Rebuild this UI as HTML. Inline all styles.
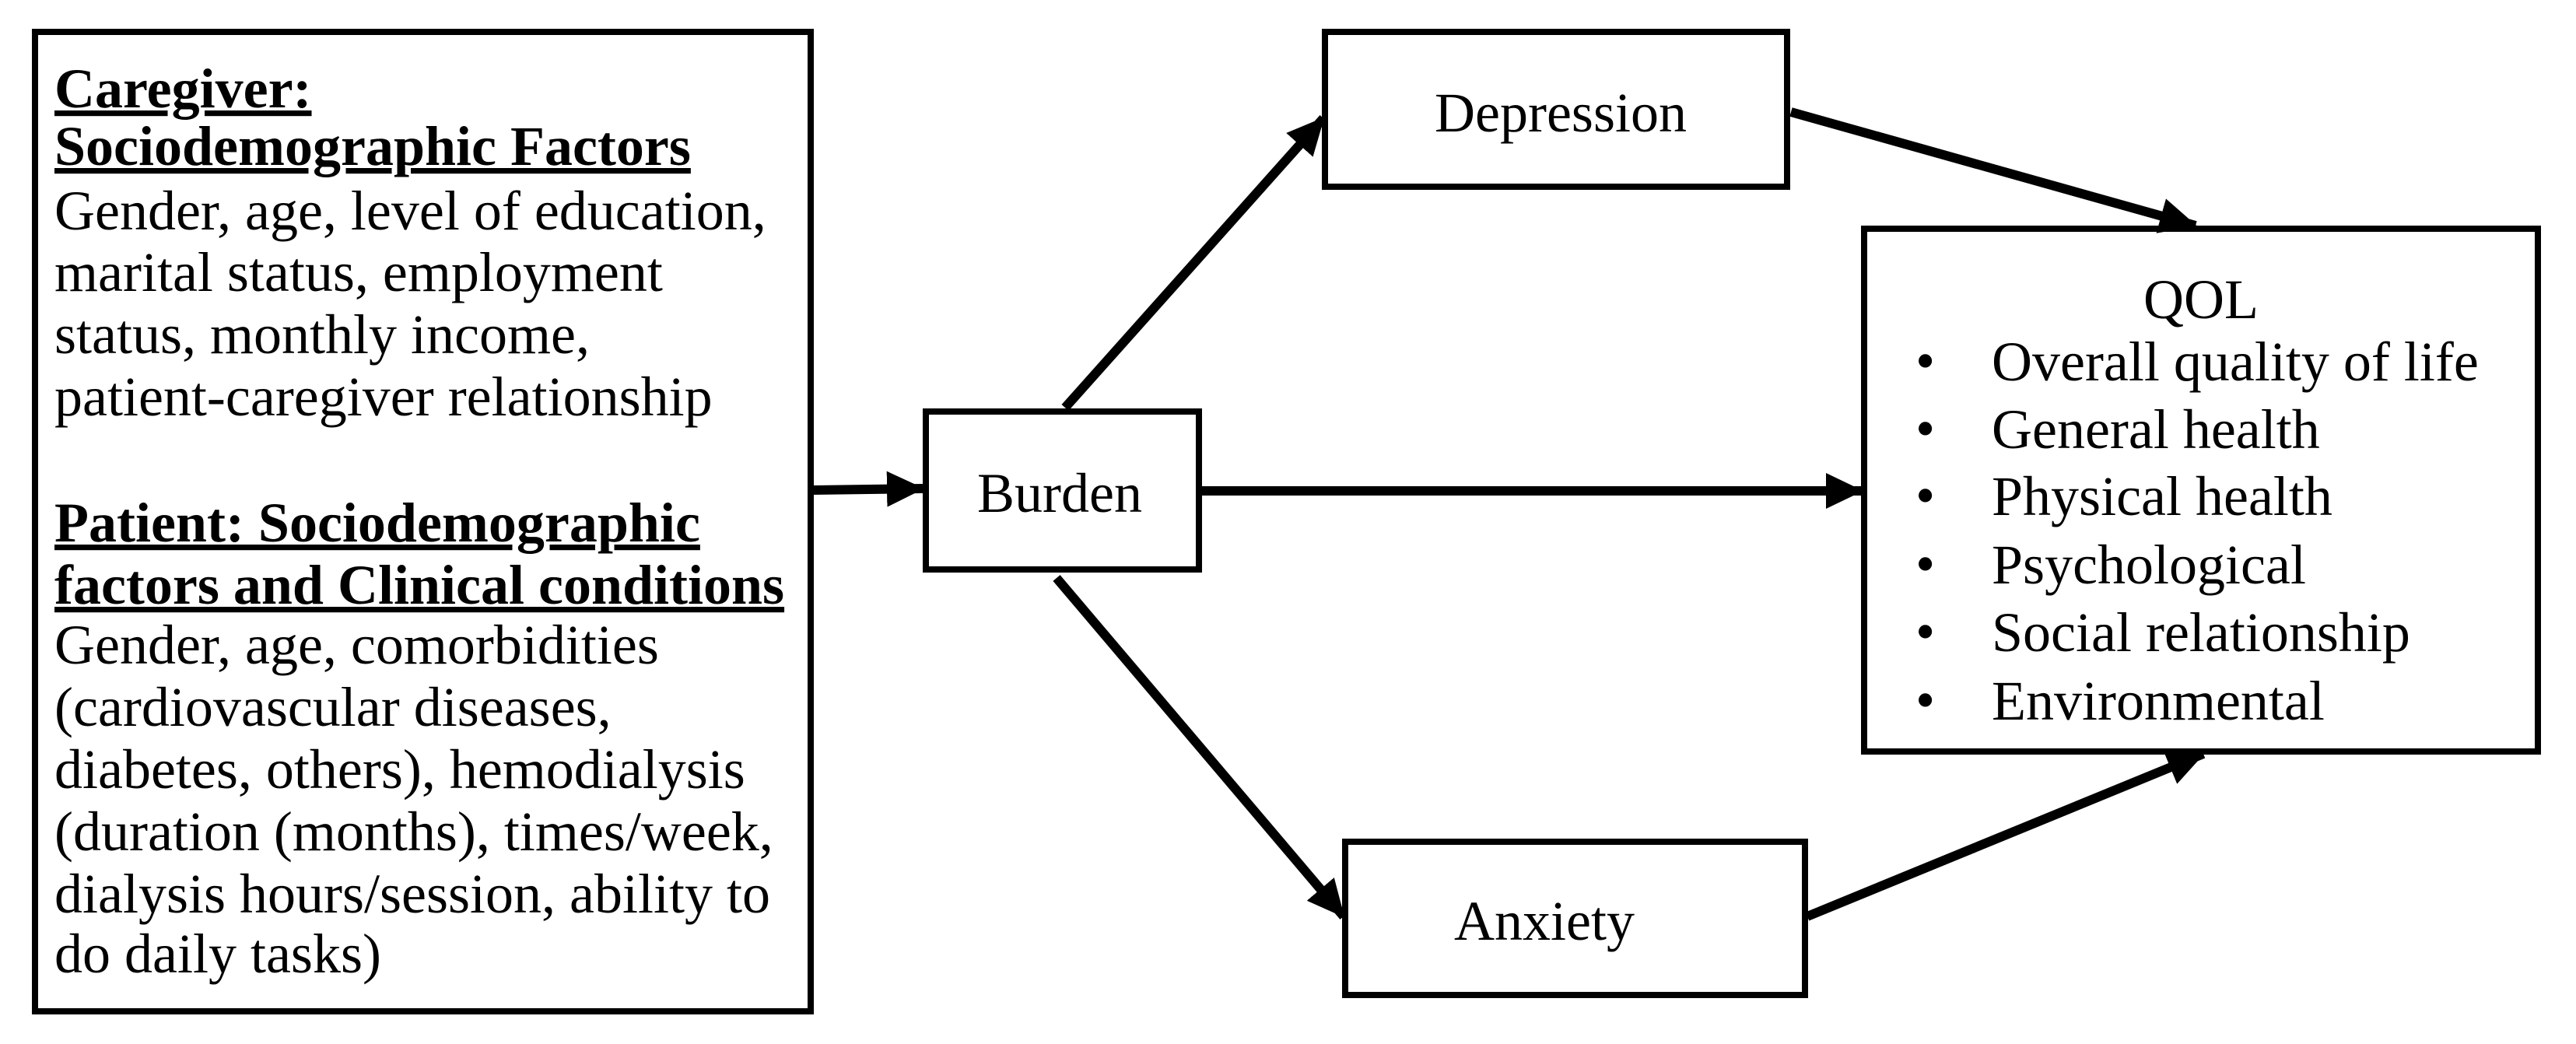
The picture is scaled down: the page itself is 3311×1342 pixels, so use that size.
<!DOCTYPE html>
<html><head><meta charset="utf-8"><style>
html,body{margin:0;padding:0;background:#fff;}
svg{display:block;}
text{font-family:"Liberation Serif",serif;font-size:72px;fill:#000;}
</style></head><body>
<svg width="3311" height="1342" viewBox="0 0 3311 1342" xmlns="http://www.w3.org/2000/svg">
<defs>
<marker id="a" markerUnits="userSpaceOnUse" markerWidth="50" markerHeight="46" refX="46" refY="23" orient="auto">
<path d="M0,0 L48,23 L0,46 z" fill="#000"/>
</marker>
</defs>
<g fill="none" stroke="#000" stroke-width="8">
<rect x="45" y="41" width="997" height="1259"/>
<rect x="1190" y="529" width="351" height="203"/>
<rect x="1703" y="41" width="594" height="199"/>
<rect x="1729" y="1082" width="591" height="197"/>
<rect x="2396" y="294" width="866" height="672"/>
</g>
<g stroke="#000" stroke-width="12" fill="none" marker-end="url(#a)">
<line x1="1045" y1="630" x2="1186" y2="628"/>
<line x1="1369" y1="524" x2="1701" y2="152"/>
<line x1="1544" y1="631" x2="2393" y2="631"/>
<line x1="1358" y1="743" x2="1727" y2="1178"/>
<line x1="2302" y1="144" x2="2822" y2="290"/>
<line x1="2323" y1="1178" x2="2832" y2="969"/>
</g>
<g font-weight="bold">
<text x="70" y="138" text-decoration="underline">Caregiver:</text>
<text x="70" y="212" text-decoration="underline">Sociodemographic Factors</text>
<text x="70" y="696" text-decoration="underline">Patient: Sociodemographic</text>
<text x="70" y="776" text-decoration="underline">factors and Clinical conditions</text>
</g>
<text x="70" y="295">Gender, age, level of education,</text>
<text x="70" y="374">marital status, employment</text>
<text x="70" y="454">status, monthly income,</text>
<text x="70" y="534">patient-caregiver relationship</text>
<text x="70" y="853">Gender, age, comorbidities</text>
<text x="70" y="933">(cardiovascular diseases,</text>
<text x="70" y="1013">diabetes, others), hemodialysis</text>
<text x="70" y="1093">(duration (months), times/week,</text>
<text x="70" y="1173">dialysis hours/session, ability to</text>
<text x="70" y="1250">do daily tasks)</text>
<text x="1362" y="658" text-anchor="middle">Burden</text>
<text x="2006" y="169" text-anchor="middle">Depression</text>
<text x="1985" y="1208" text-anchor="middle">Anxiety</text>
<text x="2829" y="409" text-anchor="middle">QOL</text>
<g>
<text x="2462" y="488">•</text><text x="2560" y="489">Overall quality of life</text>
<text x="2462" y="575">•</text><text x="2560" y="576">General health</text>
<text x="2462" y="661">•</text><text x="2560" y="662">Physical health</text>
<text x="2462" y="749">•</text><text x="2560" y="750">Psychological</text>
<text x="2462" y="836">•</text><text x="2560" y="837">Social relationship</text>
<text x="2462" y="924">•</text><text x="2560" y="925">Environmental</text>
</g>
</svg>
</body></html>
